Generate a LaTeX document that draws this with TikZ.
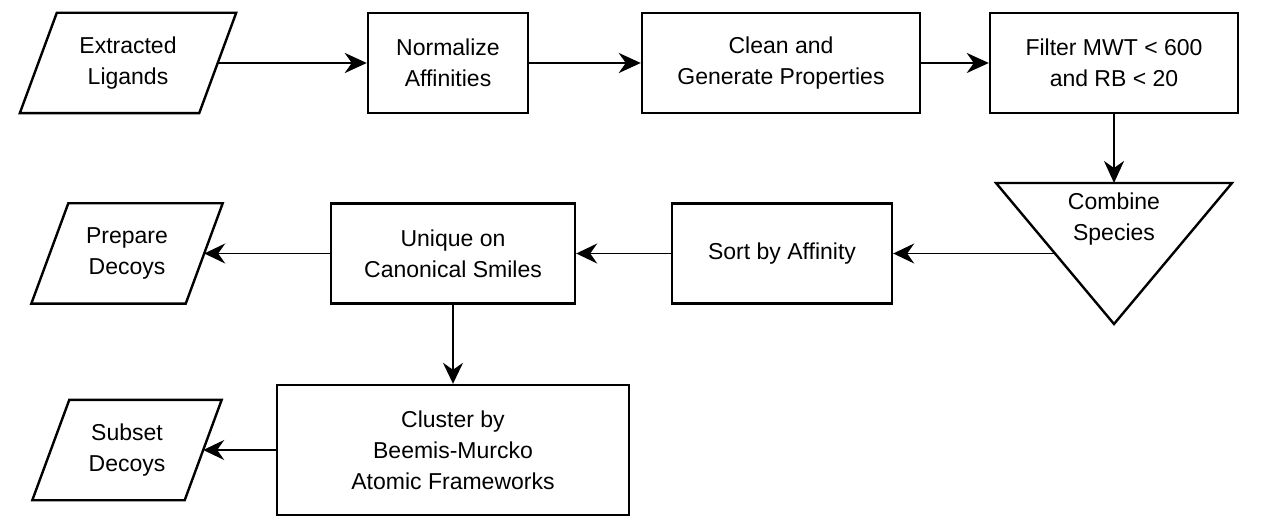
\documentclass[tikz,border=0pt]{standalone}
\usepackage{fontspec}
\setmainfont{Liberation Sans}
\usetikzlibrary{arrows.meta}
\newcommand\ioshape[2]{% node name, half slant
  \draw[shapeline] ([xshift=#2]#1.north west) -- ([xshift=#2]#1.north east) -- ([xshift=-#2]#1.south east) -- ([xshift=-#2]#1.south west) -- cycle;}
\begin{document}
\begin{tikzpicture}[x=1pt,y=-1pt,
  txtfont/.style={font=\fontsize{23}{31}\selectfont},
  shapeline/.style={line width=2.4pt, line join=miter},
  procbox/.style={draw, shapeline, inner sep=0pt, align=center, txtfont},
  plain/.style={inner sep=0pt, align=center, txtfont},
  arr/.style={line width=2.6pt, -{Stealth[length=22pt,width=20pt,inset=7pt]}},
  arrthin/.style={line width=1.8pt, -{Stealth[length=21pt,width=20pt,inset=7pt]}}
]
\useasboundingbox (0,0) rectangle (1274,526);

% Row 1
\node[plain, minimum width=179pt, minimum height=100pt] (ext) at (128,63) {Extracted\\Ligands};
\ioshape{ext}{18.5pt}
\node[procbox, minimum width=160pt, minimum height=100pt] (norm) at (448,63) {Normalize\\Affinities};
\node[procbox, minimum width=278pt, minimum height=100pt] (clean) at (781,63) {Clean and\\Generate Properties};
\node[procbox, minimum width=248pt, minimum height=100pt] (filt) at (1114,63) {Filter MWT < 600\\and RB < 20};

% Merge triangle
\coordinate (tA) at (996,183);
\coordinate (tB) at (1232,183);
\coordinate (tC) at (1114,324);
\draw[shapeline] (tA) -- (tB) -- (tC) -- cycle;
\node[plain] (comb) at (1114,219) {Combine\\Species};
\coordinate (combT) at (1114,183);
\coordinate (combL) at (1054.5,253.5);

% Row 2
\node[procbox, minimum width=220pt, minimum height=100pt] (sort) at (782,253.5) {Sort by Affinity};
\node[procbox, minimum width=244pt, minimum height=100pt] (uniq) at (453,253.5) {Unique on\\Canonical Smiles};
\node[plain, minimum width=154pt, minimum height=100pt] (prep) at (127,253.5) {Prepare\\Decoys};
\ioshape{prep}{18.5pt}

% Row 3
\node[procbox, minimum width=352pt, minimum height=130pt] (clus) at (453,450) {Cluster by\\Beemis-Murcko\\Atomic Frameworks};
\node[plain, minimum width=152pt, minimum height=100pt] (sub) at (127,450) {Subset\\Decoys};
\ioshape{sub}{18.5pt}

% Connectors
\draw[arr] (ext.east) -- (norm.west);
\draw[arr] (norm.east) -- (clean.west);
\draw[arr] (clean.east) -- (filt.west);
\draw[arr] (filt.south) -- (combT);
\draw[arrthin] (combL) -- (sort.east);
\draw[arrthin] (sort.west) -- (uniq.east);
\draw[arrthin] (uniq.west) -- (prep.east);
\draw[arrthin] (uniq.south) -- (clus.north);
\draw[arrthin] (clus.west) -- (sub.east);
\end{tikzpicture}
\end{document}
